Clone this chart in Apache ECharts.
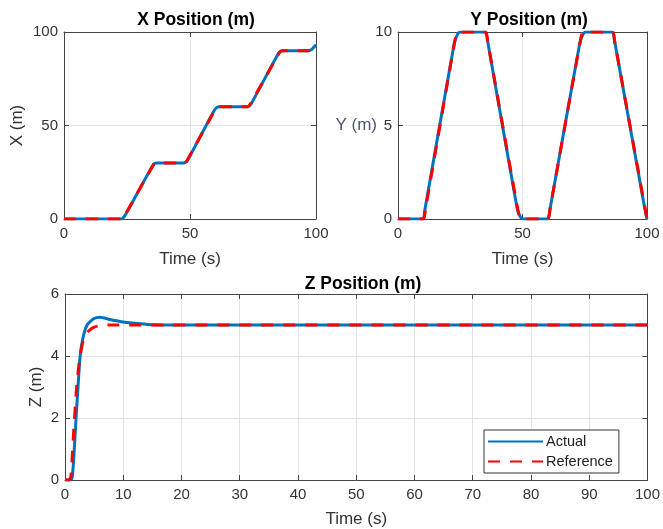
<!DOCTYPE html>
<html>
<head>
<meta charset="utf-8">
<script src="https://cdn.jsdelivr.net/npm/echarts@6/dist/echarts.min.js"></script>
<style>
  html, body { margin: 0; padding: 0; background: #fff; }
  #main { width: 663px; height: 529px; }
</style>
</head>
<body>
<div id="main"></div>
<script>
// X position (m) vs time (s)
var xTimeAct = [0, 22.8, 23.6, 24.6, 35.4, 36.6, 47.6, 48.6, 49.6, 59.8, 61.2, 72.8, 73.8, 74.8, 85.2, 86.6, 96.8, 98.4, 100];
var xValAct  = [0, 0, 0.8, 2.8, 29.0, 30, 30, 30.8, 32.8, 58.4, 60, 60, 60.8, 62.8, 88.8, 90, 90, 90.8, 93.2];
var xTimeRef = [0, 23, 23.8, 35.6, 36.8, 48, 48.8, 60.2, 61.2, 73, 73.8, 85.6, 86.6, 97, 98.4, 100];
var xValRef  = [0, 0, 1.2, 29.2, 30, 30, 31.2, 59, 60, 60, 61.2, 89.2, 90, 90, 90.8, 93];

// Y position (m) vs time (s)
var yTimeAct = [0, 10, 10.8, 22.6, 24, 25, 35, 36, 47.8, 49.2, 50.4, 60, 61, 73, 74.4, 75.4, 86, 87, 99.2, 100];
var yValAct  = [0, 0, 0.5, 9.4, 9.9, 10, 10, 9.5, 0.6, 0.1, 0, 0, 0.5, 9.4, 9.9, 10, 10, 9.5, 0.5, 0];
var yTimeRef = [0, 10.2, 11, 22.8, 24, 35.2, 36, 48, 49.4, 60.2, 61, 73.2, 74.4, 86.2, 87, 100];
var yValRef  = [0, 0, 0.5, 9.5, 10, 10, 9.5, 0.6, 0, 0, 0.5, 9.5, 10, 10, 9.5, 0];

// Z position (m) vs time (s)
var zTimeAct = [0, 0.8, 1.2, 1.5, 1.9, 2.3, 2.6, 3.1, 3.8, 4.9, 6.0, 7.7, 10, 12.9, 15, 20, 100];
var zValAct  = [0, 0, 0.05, 0.7, 2.0, 3.2, 4.0, 4.6, 5.0, 5.2, 5.25, 5.18, 5.1, 5.04, 5.01, 5.0, 5.0];
var zTimeRef = [0, 0.7, 1.0, 1.2, 1.5, 2.0, 2.5, 3.0, 3.5, 4.0, 5.0, 6.0, 8.0, 100];
var zValRef  = [0, 0, 0.1, 0.6, 1.6, 3.0, 3.9, 4.4, 4.65, 4.8, 4.93, 4.98, 5.0, 5.0];

function pairs(t, v) {
  return t.map(function (tt, i) { return [tt, v[i]]; });
}

var blue = '#0072BD';
var red = '#FF0000';
var axisColor = '#444';
var labelColor = '#333';
var font = 'Liberation Sans, Arial, sans-serif';

function mainX(gi, interval, gap) {
  return {
    type: 'value', gridIndex: gi, min: 0, max: 100, interval: interval, position: 'bottom',
    name: 'Time (s)', nameLocation: 'middle', nameGap: gap,
    nameTextStyle: { fontSize: 17, color: labelColor, fontFamily: font },
    axisLine: { show: true, onZero: false, lineStyle: { color: axisColor } },
    axisTick: { show: true, inside: true, length: 5, lineStyle: { color: axisColor } },
    axisLabel: { fontSize: 15, color: labelColor, fontFamily: font, margin: 7 },
    splitLine: { show: true, lineStyle: { color: '#e3e3e3' } }
  };
}
function topX(gi, interval) {
  return {
    type: 'value', gridIndex: gi, min: 0, max: 100, interval: interval, position: 'top',
    axisLine: { show: true, onZero: false, lineStyle: { color: axisColor } },
    axisTick: { show: true, inside: true, length: 5, lineStyle: { color: axisColor } },
    axisLabel: { show: false }, splitLine: { show: false }
  };
}
function mainY(gi, max, interval, name, nameGap, rot, nameColor) {
  return {
    type: 'value', gridIndex: gi, min: 0, max: max, interval: interval, position: 'left',
    name: name, nameLocation: 'middle', nameGap: nameGap, nameRotate: rot,
    nameMoveOverlap: false,
    nameTextStyle: { fontSize: 17, color: nameColor || labelColor, fontFamily: font },
    axisLine: { show: true, onZero: false, lineStyle: { color: axisColor } },
    axisTick: { show: true, inside: true, length: 5, lineStyle: { color: axisColor } },
    axisLabel: { fontSize: 15, color: labelColor, fontFamily: font, margin: 6 },
    splitLine: { show: true, lineStyle: { color: '#e3e3e3' } }
  };
}
function rightY(gi, max, interval) {
  return {
    type: 'value', gridIndex: gi, min: 0, max: max, interval: interval, position: 'right',
    axisLine: { show: true, onZero: false, lineStyle: { color: axisColor } },
    axisTick: { show: true, inside: true, length: 5, lineStyle: { color: axisColor } },
    axisLabel: { show: false }, splitLine: { show: false }
  };
}
function actual(xi, data) {
  return {
    name: 'Actual', type: 'line', xAxisIndex: xi, yAxisIndex: xi, data: data,
    symbol: 'none', smooth: 0.2, lineStyle: { color: blue, width: 3 }, itemStyle: { color: blue },
    animation: false, z: 2
  };
}
function reference(xi, data) {
  return {
    name: 'Reference', type: 'line', xAxisIndex: xi, yAxisIndex: xi, data: data,
    symbol: 'none', smooth: 0.2, lineStyle: { color: red, width: 3, type: [12, 10] }, itemStyle: { color: red },
    animation: false, z: 3
  };
}

var titleStyle = { fontSize: 17.5, fontWeight: 'bold', color: '#000', fontFamily: font };

var chart = echarts.init(document.getElementById('main'));
chart.setOption({
  backgroundColor: '#fff',
  animation: false,
  title: [
    { text: 'X Position (m)', left: 191, top: 6, textAlign: 'center', textStyle: titleStyle },
    { text: 'Y Position (m)', left: 524, top: 6, textAlign: 'center', textStyle: titleStyle },
    { text: 'Z Position (m)', left: 358, top: 270, textAlign: 'center', textStyle: titleStyle }
  ],
  legend: {
    data: ['Actual', 'Reference'],
    orient: 'vertical', left: 484, top: 430,
    itemWidth: 55, itemHeight: 14, itemGap: 5,
    padding: [4, 6, 4, 3],
    borderColor: '#333', borderWidth: 1, backgroundColor: '#fff',
    itemStyle: { opacity: 0 },
    textStyle: { fontSize: 14.5, color: '#222', fontFamily: font, padding: [0, 0, 0, -2] }
  },
  grid: [
    { left: 64, top: 32, width: 252, height: 187, show: false },
    { left: 398, top: 32, width: 249, height: 187, show: false },
    { left: 65, top: 294, width: 584, height: 188, show: false }
  ],
  xAxis: [
    mainX(0, 50, 32), mainX(1, 50, 32), mainX(2, 10, 31),
    topX(0, 50), topX(1, 50), topX(2, 10)
  ],
  yAxis: [
    mainY(0, 100, 50, 'X (m)', 38, 90),
    mainY(1, 10, 5, 'Y (m)', 21, 0, '#4d5a6e'),
    mainY(2, 6, 2, 'Z (m)', 20, 90),
    rightY(0, 100, 50), rightY(1, 10, 5), rightY(2, 6, 2)
  ],
  series: [
    actual(0, pairs(xTimeAct, xValAct)), reference(0, pairs(xTimeRef, xValRef)),
    actual(1, pairs(yTimeAct, yValAct)), reference(1, pairs(yTimeRef, yValRef)),
    actual(2, pairs(zTimeAct, zValAct)), reference(2, pairs(zTimeRef, zValRef))
  ]
});
</script>
</body>
</html>
